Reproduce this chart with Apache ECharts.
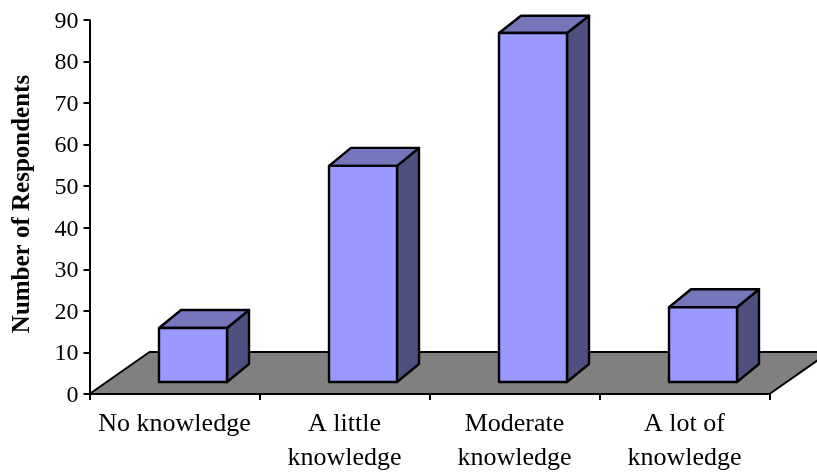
<!DOCTYPE html>
<html>
<head>
<meta charset="utf-8">
<style>html,body{margin:0;padding:0;background:#fff}#c{width:817px;height:472px}</style>
<script src="https://cdn.jsdelivr.net/npm/echarts@6/dist/echarts.min.js"></script>
</head>
<body>
<div id="c"></div>
<script>
const categories = ['No knowledge', 'A little\nknowledge', 'Moderate\nknowledge', 'A lot of\nknowledge'];
const respondents = [13, 52, 84, 18];
const yTicks = {min: 0, max: 90, interval: 10};

const barWidth = 68, barShift = 18.5, barLift = 12, depthX = 22, depthY = 18;
const floorDepthX = 60, floorDepthY = 42;

const chart = echarts.init(document.getElementById('c'), null, {renderer: 'canvas'});
const edge = {stroke: '#000', lineWidth: 2.4, lineJoin: 'round'};
const poly = (points, fill, lw) => ({
  type: 'polygon', shape: {points},
  style: Object.assign({}, edge, {fill, lineWidth: lw || 2.4})
});

function renderFloor(params, api) {
  const size = api.size([1, 0])[0];
  const a = api.coord([0, 0]);
  const left = a[0] - size / 2, y = a[1], right = left + size * categories.length;
  return poly([[left, y], [left + floorDepthX, y - floorDepthY],
    [right + floorDepthX, y - floorDepthY], [right, y]], '#808080', 2);
}

function renderBar(params, api) {
  const i = api.value(0), v = api.value(1);
  const c = api.coord([i, v]);
  const b = api.coord([i, 0]);
  const x0 = c[0] + barShift - barWidth / 2, x1 = x0 + barWidth;
  const yTop = c[1] - barLift, yBot = b[1] - barLift;
  const backTop = Math.max(yTop - depthY, 15.7);
  return {
    type: 'group',
    children: [
      poly([[x1, yTop], [x1 + depthX, backTop], [x1 + depthX, yBot - depthY], [x1, yBot]], '#4f4f80'),
      poly([[x0, yTop], [x0 + depthX, backTop], [x1 + depthX, backTop], [x1, yTop]], '#7676bc'),
      poly([[x0, yTop], [x1, yTop], [x1, yBot], [x0, yBot]], '#9999ff')
    ]
  };
}

chart.setOption({
  animation: false,
  backgroundColor: '#fff',
  grid: {left: 89.5, right: 47.5, top: 20, bottom: 78, containLabel: false, outerBoundsMode: 'none'},
  textStyle: {fontFamily: 'Liberation Serif'},
  xAxis: {
    type: 'category', data: categories, z: 10,
    axisLine: {lineStyle: {color: '#000', width: 2}},
    axisTick: {show: true, alignWithLabel: false, length: 6, lineStyle: {color: '#000', width: 2}},
    axisLabel: {color: '#000', fontFamily: 'Liberation Serif', fontSize: 26, lineHeight: 34, margin: 13, interval: 0}
  },
  yAxis: {
    type: 'value', min: yTicks.min, max: yTicks.max, interval: yTicks.interval, z: 10,
    name: 'Number of Respondents', nameLocation: 'middle', nameGap: 54,
    nameTextStyle: {color: '#000', fontFamily: 'Liberation Serif', fontWeight: 'bold', fontSize: 25, padding: [0, 0, 0, 6]},
    axisLine: {show: true, lineStyle: {color: '#000', width: 2}},
    axisTick: {show: true, length: 6, lineStyle: {color: '#000', width: 2}},
    axisLabel: {color: '#000', fontFamily: 'Liberation Serif', fontSize: 24, margin: 11, verticalAlign: 'top', lineHeight: 3},
    splitLine: {show: false}
  },
  series: [
    {type: 'custom', z: 1, clip: false, silent: true, data: [[0, 0]], renderItem: renderFloor},
    {type: 'custom', z: 2, clip: false, data: respondents.map((v, i) => [i, v]),
      encode: {x: 0, y: 1}, renderItem: renderBar}
  ]
});
</script>
</body>
</html>
